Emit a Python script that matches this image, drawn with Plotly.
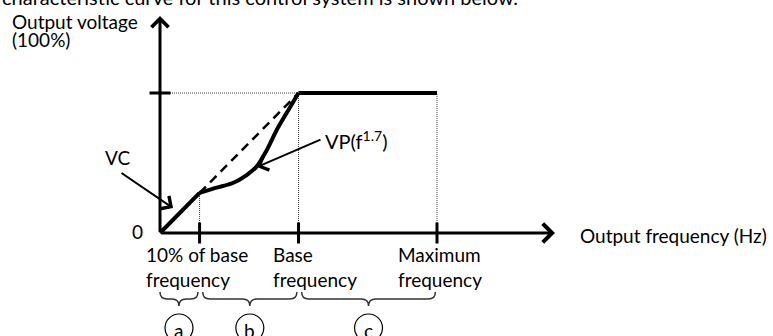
import plotly.graph_objects as go

# schematic V/f characteristic (frequency in diagram units, voltage in %)
tick_freq = [1, 3.5, 7]
tick_labels = ["10% of base<br>frequency", "Base<br>frequency", "Maximum<br>frequency"]
region_labels = ["a", "b", "c"]

linear_f = [0, 1]
linear_v = [0, 28.6]

dashed_f = [1, 3.5]
dashed_v = [28.6, 100]

vp_f = [1.0, 1.43, 1.84, 2.19, 2.44, 2.70, 2.95, 3.20, 3.5]
vp_v = [28.6, 32.4, 35.7, 41.4, 47.4, 59.3, 73.6, 85.7, 100]

flat_f = [3.5, 7]
flat_v = [100, 100]

W, H = 773, 336
FONT = "Lato"
FS = 19


def fx(px):
    return (px - 160) / 39.57


def fy(py):
    return (233 - py) / 1.4


fig = go.Figure()

# dotted guide lines
gx, gy = [0, 3.5, None], [100, 100, None]
for f, v in [(1, 28.6), (3.5, 100), (7, 100)]:
    gx += [f, f, None]
    gy += [0, v, None]
fig.add_trace(go.Scatter(x=gx, y=gy, mode="lines",
                         line=dict(color="#444", width=1, dash="1px,1px")))

# dashed linear V/f line
fig.add_trace(go.Scatter(x=dashed_f, y=dashed_v, mode="lines",
                         line=dict(color="black", width=2.5, dash="9px,6px")))

# main characteristic
fig.add_trace(go.Scatter(x=linear_f, y=linear_v, mode="lines",
                         line=dict(color="black", width=4)))
fig.add_trace(go.Scatter(x=vp_f, y=vp_v, mode="lines",
                         line=dict(color="black", width=4, shape="spline", smoothing=0.8)))
fig.add_trace(go.Scatter(x=flat_f, y=flat_v, mode="lines",
                         line=dict(color="black", width=4)))

# tick marks
fig.add_trace(go.Scatter(x=tick_freq, y=[0] * len(tick_freq), mode="markers",
                         marker=dict(symbol="line-ns", size=15,
                                     line=dict(color="black", width=3))))
fig.add_trace(go.Scatter(x=[0], y=[100], mode="markers",
                         marker=dict(symbol="line-ew", size=15,
                                     line=dict(color="black", width=3))))

ann = []
txt = dict(color="black", family=FONT, size=FS)

# axes with arrows
ann.append(dict(x=fx(555), y=0, ax=0, ay=0, axref="x", ayref="y", text="",
                showarrow=True, arrowhead=4, arrowwidth=3, arrowsize=1.2, arrowcolor="black"))
ann.append(dict(x=0, y=fy(16), ax=0, ay=0, axref="x", ayref="y", text="",
                showarrow=True, arrowhead=4, arrowwidth=3, arrowsize=1.1, arrowcolor="black"))

# VC / VP pointers
ann.append(dict(x=fx(173), y=fy(208), ax=fx(120), ay=fy(172), axref="x", ayref="y", text="",
                showarrow=True, arrowhead=4, arrowwidth=2, arrowsize=1.5, arrowcolor="black"))
ann.append(dict(x=fx(257), y=fy(167), ax=fx(322), ay=fy(139), axref="x", ayref="y", text="",
                showarrow=True, arrowhead=4, arrowwidth=2, arrowsize=1.5, arrowcolor="black"))

ann.append(dict(x=fx(117), y=fy(157), text="VC", showarrow=False, font=txt))
ann.append(dict(x=fx(323), y=fy(140), text="VP(f<sup>1.7</sup>)", xanchor="left",
                showarrow=False, font=dict(color="black", family=FONT, size=20)))
ann.append(dict(x=fx(137), y=fy(231), text="0", showarrow=False, font=txt))
ann.append(dict(x=fx(578), y=fy(235), text="Output frequency (Hz)", xanchor="left",
                showarrow=False, font=txt))
ann.append(dict(x=fx(10), y=fy(21), text="Output voltage", xanchor="left",
                showarrow=False, font=txt))
ann.append(dict(x=fx(10), y=fy(39), text="(100%)", xanchor="left",
                showarrow=False, font=txt))
ann.append(dict(x=0, y=1, xref="paper", yref="paper", xanchor="left", yanchor="middle",
                text="characteristic curve for this control system is shown below.",
                showarrow=False, yshift=3, font=dict(color="black", family=FONT, size=20)))

# tick labels, left aligned relative to each tick
shifts = [-56, -28, -41]
for f, lab, sh in zip(tick_freq, tick_labels, shifts):
    for i, line in enumerate(lab.split("<br>")):
        ann.append(dict(x=f, y=fy(254 + 25 * i), text=line, xanchor="left", xshift=sh,
                        showarrow=False, font=txt))

# braces and circled letters under each region
bounds = [0] + tick_freq
yt, ym, yp = fy(292), fy(299), fy(306)
r = 0.18
shapes = []
for i, lab in enumerate(region_labels):
    x0 = bounds[i] + (0.0 if i == 0 else 0.08)
    x1 = bounds[i + 1] - 0.04
    xm = (x0 + x1) / 2
    path = (f"M{x0},{yt} Q{x0},{ym} {x0 + r},{ym} L{xm - r},{ym} "
            f"Q{xm},{ym} {xm},{yp} Q{xm},{ym} {xm + r},{ym} "
            f"L{x1 - r},{ym} Q{x1},{ym} {x1},{yt}")
    shapes.append(dict(type="path", path=path, xref="x", yref="y",
                       line=dict(color="#333", width=1.5)))
    shapes.append(dict(type="circle", xref="x", yref="y", xsizemode="pixel", ysizemode="pixel",
                       xanchor=xm, yanchor=fy(328), x0=-14, x1=14, y0=-14, y1=14,
                       line=dict(color="black", width=1.2)))
    ann.append(dict(x=xm, y=fy(330), text=lab, showarrow=False, font=txt))

fig.update_layout(
    width=W, height=H,
    margin=dict(l=0, r=0, t=0, b=0),
    paper_bgcolor="white", plot_bgcolor="white",
    showlegend=False,
    xaxis=dict(range=[fx(0), fx(W)], visible=False, fixedrange=True),
    yaxis=dict(range=[fy(H), fy(0)], visible=False, fixedrange=True),
    annotations=ann, shapes=shapes,
)

fig.write_html("out.html", config=dict(displayModeBar=False),
               post_script="document.body.style.margin='0';document.body.style.overflow='hidden';")
